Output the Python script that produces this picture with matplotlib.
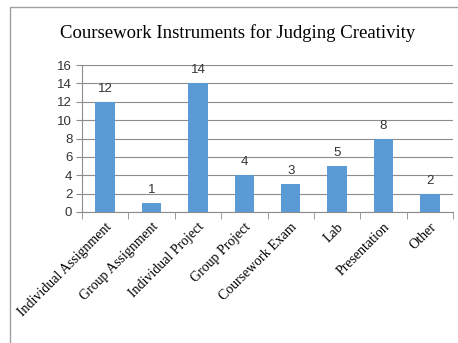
import matplotlib
matplotlib.use("Agg")
import matplotlib.pyplot as plt
import matplotlib.patches as mpatches
import numpy as np

categories = ["Individual Assignment", "Group Assignment", "Individual Project",
              "Group Project", "Coursework Exam", "Lab", "Presentation", "Other"]
counts = [12, 1, 14, 4, 3, 5, 8, 2]
y_ticks = [0, 2, 4, 6, 8, 10, 12, 14, 16]

BAR_COLOR = "#5b9bd5"
GRID_COLOR = "#8c8c8c"

fig = plt.figure(figsize=(4.58, 3.43), dpi=100)
ax = fig.add_axes([82 / 458, 1 - 212 / 343, (453 - 82) / 458, (212 - 65) / 343])

x = np.arange(len(categories))
bars = ax.bar(x, counts, width=0.42, color=BAR_COLOR, zorder=3)

for bar, v in zip(bars, counts):
    ax.annotate(str(v), (bar.get_x() + bar.get_width() / 2, v),
                xytext=(0, 5), textcoords="offset points",
                ha="center", va="bottom", fontsize=9.5,
                family="Liberation Sans", color="#333333")

ax.set_xlim(-0.5, len(categories) - 0.5)
ax.set_ylim(0, 16)
ax.set_yticks(y_ticks)
ax.set_yticklabels([str(t) for t in y_ticks], fontsize=9.5,
                   family="Liberation Sans", color="#333333")
ax.yaxis.grid(True, color=GRID_COLOR, linewidth=0.8, zorder=0)
ax.set_axisbelow(True)

# category labels at centres, tick marks on the boundaries
ax.set_xticks(x)
ax.set_xticklabels(categories, rotation=45, ha="right", va="top",
                   rotation_mode="anchor", fontsize=10,
                   family="Liberation Serif")
ax.tick_params(axis="x", length=0, pad=6)
ax.set_xticks(np.arange(len(categories) + 1) - 0.5, minor=True)
ax.tick_params(axis="x", which="minor", length=5, color=GRID_COLOR)
ax.tick_params(axis="y", length=4, color=GRID_COLOR, pad=3)

for side in ("top", "right"):
    ax.spines[side].set_visible(False)
for side in ("left", "bottom"):
    ax.spines[side].set_color(GRID_COLOR)
    ax.spines[side].set_linewidth(0.8)

fig.text(238 / 458, 1 - 33 / 343, "Coursework Instruments for Judging Creativity",
         ha="center", va="center", fontsize=13.5, family="Liberation Serif")

# chart frame
fig.add_artist(mpatches.Rectangle((10 / 458, -0.1), 1.0, 1 - 7 / 343 + 0.1,
                                  transform=fig.transFigure, fill=False,
                                  edgecolor="#a0a0a0", linewidth=1))

fig.savefig("out.png", dpi=100)
